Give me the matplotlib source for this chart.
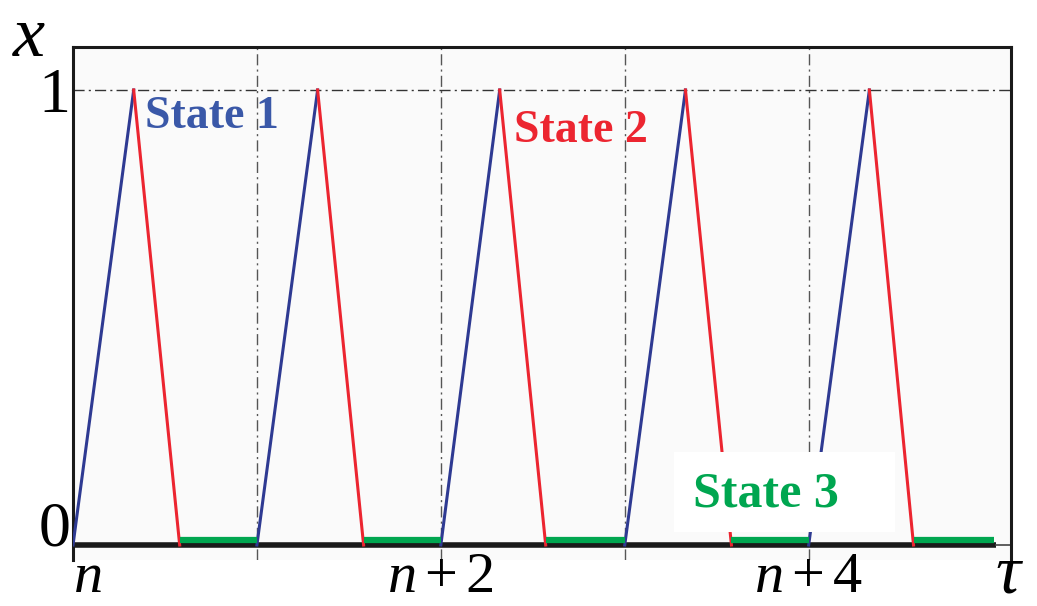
import matplotlib.pyplot as plt
from matplotlib.patches import Rectangle

# cycle times (in units of the period)
rise_start = [0.0, 1.0, 2.0, 3.0, 4.0]
peak_time = [0.33, 1.33, 2.32, 3.33, 4.33]
fall_end = [0.58, 1.58, 2.57, 3.58, 4.57]
rest_end = [1.0, 2.0, 3.0, 4.0, 5.01]
peak_value = 1.0
rest_value = 0.012

grid_x = [1, 2, 3, 4]
tick_x = [0, 2, 4]
tick_x_labels = [r"$n$", r"$n+2$", r"$n+4$"]

BLUE = "#2e3a92"
RED = "#ec2530"
GREEN = "#00a650"

plt.rcParams["font.family"] = ["Liberation Serif", "DejaVu Serif"]
plt.rcParams["mathtext.fontset"] = "custom"
plt.rcParams["mathtext.it"] = "Liberation Serif:italic"
plt.rcParams["mathtext.rm"] = "Liberation Serif"

fig = plt.figure(figsize=(10.37, 6.06), dpi=100)
ax = fig.add_axes([73 / 1037, 1 - 560 / 606, (1011 - 73) / 1037, (560 - 47) / 606])
ax.set_facecolor("#fafafa")

# y range so that 0 sits at pixel 545 and 1 at pixel 90
px_per_unit = 455.0
ax.set_ylim(-(560 - 545) / px_per_unit, 1 + (90 - 47) / px_per_unit)
ax.set_xlim(0, 5.1)

for gx in grid_x:
    ax.axvline(gx, color="#555555", lw=1.0, ls=(0, (8, 3, 1.5, 3)), zorder=1)
ax.axhline(1, color="#333333", lw=1.0, ls=(0, (8, 3, 1.5, 3)), zorder=1)

# axis line at zero
ax.plot([0, 5.02], [0, 0], color="#1a1a1a", lw=4, solid_capstyle="butt", zorder=2)
ax.plot([5.02, 5.1], [0, 0], color="#444444", lw=1.2, zorder=2)

for t0, tp, tf, te in zip(rise_start, peak_time, fall_end, rest_end):
    ax.plot([t0, tp], [0, peak_value], color=BLUE, lw=2.2, zorder=3)
    ax.plot([tp, tf], [peak_value, 0], color=RED, lw=2.2, zorder=3)
    ax.plot([tf, te], [rest_value, rest_value], color=GREEN, lw=4.5,
            solid_capstyle="butt", zorder=4)

ax.text(0.39, 0.94, "State 1", color="#3a58a8", fontsize=33, fontweight="bold",
        ha="left", va="center", zorder=5)
ax.text(2.4, 0.91, "State 2", color=RED, fontsize=33, fontweight="bold",
        ha="left", va="center", zorder=5)
ax.add_patch(Rectangle((3.27, 0.029), 1.2, 0.175, facecolor="white",
                       edgecolor="none", zorder=5))
ax.text(3.37, 0.112, "State 3", color=GREEN, fontsize=36, fontweight="bold",
        ha="left", va="center", zorder=6)

for side in ["top", "right", "left"]:
    ax.spines[side].set_linewidth(2.2)
    ax.spines[side].set_color("#1a1a1a")
ax.spines["bottom"].set_visible(False)

ax.set_yticks([0, 1])
ax.set_yticklabels(["0", "1"], fontsize=46)
ax.get_yticklabels()[0].set_va("baseline")
ax.set_xticks(tick_x)
ax.set_xticklabels(tick_x_labels, fontsize=42)
ax.get_xticklabels()[0].set_ha("left")
ax.tick_params(axis="both", length=0, pad=2)
ax.tick_params(axis="x", pad=-6)

fig.text(12 / 1037, 1 - 38 / 606, r"$x$", fontsize=52, ha="left", va="center")
fig.text(995 / 1037, 1 - 576 / 606, r"$\tau$", fontsize=50, ha="left", va="center")

fig.savefig("out.png", dpi=100)
